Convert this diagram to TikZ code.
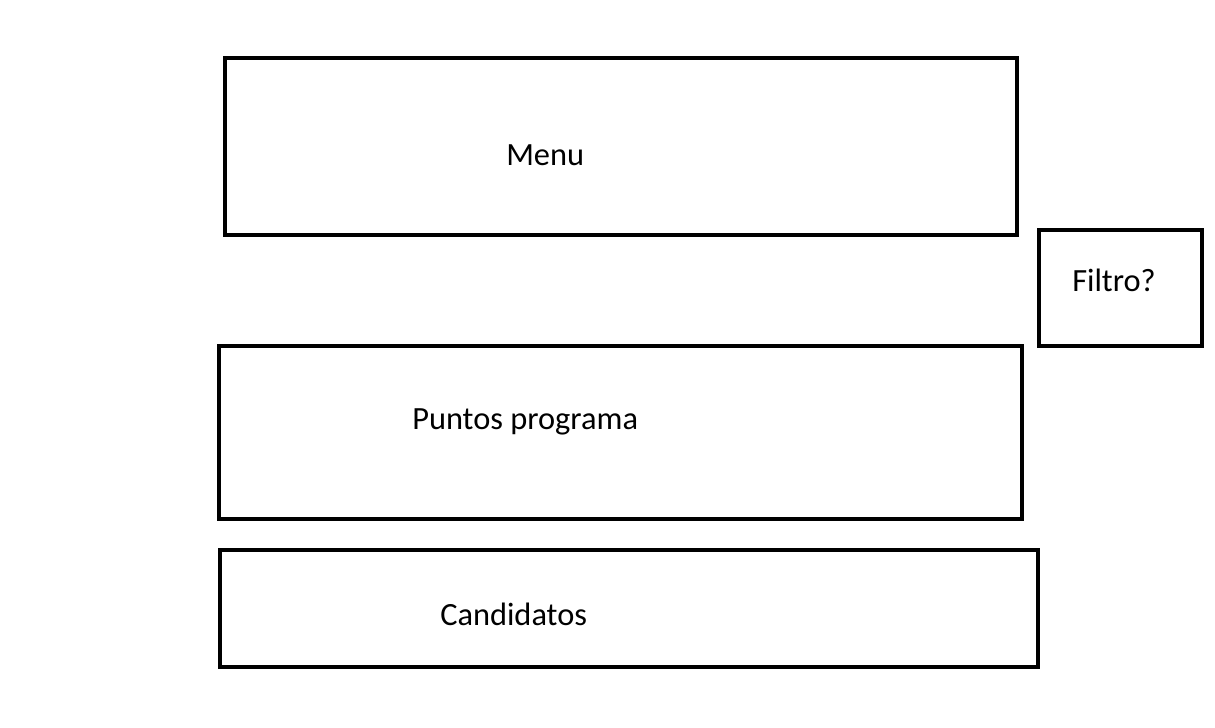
\documentclass[tikz,border=0pt]{standalone}
\usepackage{fontspec}
\setmainfont{Carlito}
\begin{document}
\begin{tikzpicture}[x=0.75pt,y=-0.75pt,
  box/.style={draw=black,line width=3pt,rectangle,inner sep=0pt},
  lbl/.style={anchor=base west,inner sep=0pt,font=\fontsize{24.3}{29}\selectfont}]
\useasboundingbox (0,0) rectangle (1215,728);
\node[box,minimum width=792*0.75pt,minimum height=177*0.75pt] (menu) at (621,146.5) {};
\node[box,minimum width=163*0.75pt,minimum height=116*0.75pt] (filtro) at (1120.5,288) {};
\node[box,minimum width=803*0.75pt,minimum height=173*0.75pt] (puntos) at (620.5,432.5) {};
\node[box,minimum width=818*0.75pt,minimum height=117*0.75pt] (cand) at (629,608.5) {};
\node[lbl] (tmenu) at (506,165) {Menu};
\node[lbl] (tfiltro) at (1072,291) {Filtro?};
\node[lbl] (tpuntos) at (412,429) {Puntos programa};
\node[lbl] (tcand) at (440,625) {Candidatos};
\end{tikzpicture}
\end{document}
